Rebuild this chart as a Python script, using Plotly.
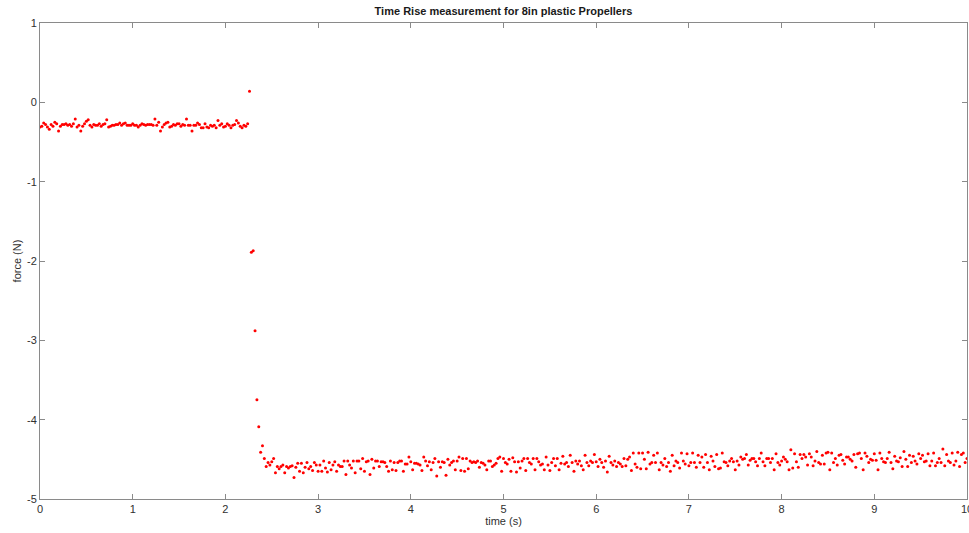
import plotly.graph_objects as go

# Sampling period of the recording (s)
SAMPLE_PERIOD = 0.02

# Force readings (N), one per sample
force_idle = [
    -0.31,-0.30,-0.26,-0.28,-0.31,-0.34,-0.28,-0.30,-0.25,-0.27,
    -0.36,-0.30,-0.28,-0.28,-0.27,-0.29,-0.28,-0.30,-0.27,-0.21,
    -0.31,-0.29,-0.36,-0.30,-0.27,-0.24,-0.22,-0.29,-0.31,-0.28,
    -0.29,-0.29,-0.27,-0.30,-0.28,-0.27,-0.22,-0.31,-0.30,-0.29,
    -0.29,-0.28,-0.28,-0.26,-0.29,-0.27,-0.26,-0.29,-0.29,-0.29,
    -0.27,-0.29,-0.29,-0.31,-0.29,-0.27,-0.28,-0.29,-0.28,-0.28,
    -0.28,-0.29,-0.21,-0.29,-0.25,-0.36,-0.31,-0.28,-0.26,-0.25,
    -0.31,-0.30,-0.28,-0.29,-0.27,-0.27,-0.30,-0.28,-0.29,-0.21,
    -0.29,-0.29,-0.36,-0.29,-0.29,-0.26,-0.28,-0.32,-0.32,-0.27,
    -0.31,-0.32,-0.29,-0.30,-0.29,-0.32,-0.23,-0.29,-0.27,-0.31,
    -0.30,-0.27,-0.29,-0.32,-0.29,-0.28,-0.23,-0.26,-0.30,-0.32,
    -0.29,-0.30,-0.27,
]

force_rise = [0.14, -1.89, -1.87, -2.88, -3.75, -4.09, -4.41, -4.33, -4.49]

force_steady_a = [
    -4.59,-4.54,-4.57,-4.53,-4.49,-4.67,-4.59,-4.62,-4.59,-4.57,
    -4.67,-4.59,-4.61,-4.59,-4.58,-4.73,-4.60,-4.55,-4.65,-4.55,
    -4.67,-4.60,-4.54,-4.62,-4.59,-4.64,-4.54,-4.57,-4.65,-4.57,
    -4.65,-4.52,-4.61,-4.66,-4.54,-4.63,-4.57,-4.53,-4.65,-4.57,
    -4.59,-4.59,-4.52,-4.69,-4.52,-4.57,-4.61,-4.52,-4.67,-4.52,
    -4.52,-4.62,-4.49,-4.65,-4.53,-4.52,-4.69,-4.50,-4.61,-4.52,
    -4.52,-4.59,-4.53,-4.53,-4.54,-4.59,-4.65,-4.52,-4.63,-4.54,
    -4.64,-4.54,-4.52,-4.52,-4.65,-4.56,-4.56,-4.47,-4.53,-4.63,
    -4.55,-4.55,-4.56,-4.57,-4.64,-4.47,-4.52,-4.58,-4.53,-4.63,
    -4.54,-4.49,-4.71,-4.53,-4.60,-4.53,-4.54,-4.70,-4.50,-4.57,
    -4.54,-4.52,-4.63,-4.52,-4.47,-4.64,-4.49,-4.65,-4.49,-4.62,
    -4.52,-4.54,-4.53,-4.54,-4.52,-4.60,
]

force_steady_b = [
    -4.54,-4.55,-4.57,-4.63,-4.52,-4.52,-4.59,-4.57,-4.55,-4.49,
    -4.47,-4.65,-4.49,-4.54,-4.56,-4.50,-4.65,-4.48,-4.53,-4.66,
    -4.53,-4.61,-4.52,-4.49,-4.64,-4.49,-4.54,-4.56,-4.49,-4.63,
    -4.49,-4.53,-4.57,-4.56,-4.63,-4.47,-4.57,-4.64,-4.54,-4.49,
    -4.58,-4.49,-4.63,-4.55,-4.46,-4.56,-4.54,-4.59,-4.45,-4.54,
    -4.65,-4.52,-4.56,-4.52,-4.58,-4.63,-4.45,-4.54,-4.58,-4.52,
    -4.54,-4.44,-4.53,-4.59,-4.50,-4.54,-4.60,-4.52,-4.66,-4.46,
    -4.54,-4.57,-4.52,-4.59,-4.54,-4.56,-4.59,-4.49,-4.58,-4.50,
    -4.47,-4.64,-4.42,-4.56,-4.60,-4.42,-4.62,-4.42,-4.50,-4.62,
    -4.41,-4.56,-4.54,-4.45,-4.54,-4.42,-4.63,-4.54,-4.57,-4.49,
    -4.59,-4.54,-4.65,-4.45,-4.58,-4.52,-4.54,-4.61,-4.42,-4.52,
    -4.56,-4.43,-4.58,-4.54,-4.42,-4.54,-4.60,-4.45,-4.54,-4.47,
    -4.60,-4.44,-4.54,-4.63,-4.46,-4.52,-4.59,-4.44,-4.62,
]

force_steady_c = [
    -4.61,-4.42,-4.53,-4.54,-4.58,-4.52,-4.49,-4.53,-4.63,-4.52,
    -4.57,-4.47,-4.50,-4.49,-4.44,-4.57,-4.51,-4.49,-4.49,-4.53,
    -4.58,-4.49,-4.42,-4.53,-4.58,-4.49,-4.49,-4.54,-4.49,-4.63,
    -4.43,-4.54,-4.57,-4.52,-4.47,-4.50,-4.53,-4.63,-4.38,-4.61,
    -4.43,-4.53,-4.60,-4.44,-4.49,-4.44,-4.47,-4.57,-4.43,-4.47,
    -4.58,-4.52,-4.40,-4.54,-4.56,-4.45,-4.56,-4.42,-4.41,-4.63,
    -4.42,-4.54,-4.49,-4.57,-4.45,-4.44,-4.51,-4.56,-4.47,-4.47,
    -4.50,-4.52,-4.44,-4.60,-4.43,-4.42,-4.49,-4.63,-4.42,-4.46,
    -4.54,-4.50,-4.51,-4.43,-4.51,-4.63,-4.42,-4.49,-4.53,-4.54,
    -4.49,-4.41,-4.54,-4.62,-4.46,-4.52,-4.53,-4.48,-4.59,-4.40,
    -4.50,-4.59,-4.45,-4.54,-4.46,-4.52,-4.56,-4.43,-4.49,-4.45,
    -4.53,-4.52,-4.43,-4.58,-4.52,-4.42,-4.58,-4.54,-4.49,-4.54,
    -4.37,-4.58,-4.44,-4.52,-4.54,-4.42,-4.57,-4.52,-4.41,-4.59,
    -4.44,-4.42,-4.54,-4.49,
]

force = force_idle + force_rise + force_steady_a + force_steady_b + force_steady_c
time = [round(i * SAMPLE_PERIOD, 2) for i in range(len(force))]

x_ticks = [0, 1, 2, 3, 4, 5, 6, 7, 8, 9, 10]
y_ticks = [-5, -4, -3, -2, -1, 0, 1]

title_text = "Time Rise measurement for 8in plastic Propellers"
x_label = "time (s)"
y_label = "force (N)"

FONT = "Liberation Sans, Arial, Helvetica, sans-serif"
AXIS_COLOR = "#8a8a8a"
TEXT_COLOR = "#303030"

fig = go.Figure()
fig.add_trace(go.Scatter(
    x=time, y=force, mode="markers",
    marker=dict(color="#ff0000", size=3, line=dict(width=0)),
    showlegend=False, hoverinfo="x+y",
))

axis_common = dict(
    showline=True, linecolor=AXIS_COLOR, linewidth=1, mirror="ticks",
    ticks="inside", ticklen=5, tickwidth=1, tickcolor=AXIS_COLOR,
    showgrid=False, zeroline=False, automargin=False,
    ticklabeloverflow="allow",
    tickfont=dict(family=FONT, size=11, color=TEXT_COLOR),
)

fig.update_layout(
    width=969, height=533,
    margin=dict(l=40, r=2, t=23, b=34, pad=0),
    paper_bgcolor="white", plot_bgcolor="white",
    font=dict(family=FONT, size=11, color=TEXT_COLOR),
    title=dict(
        text="<b>" + title_text + "</b>",
        x=0.5, xref="paper", xanchor="center",
        y=1, yref="container", yanchor="top", pad=dict(t=7),
        font=dict(family=FONT, size=11, color="#1a1a1a"),
    ),
    xaxis=dict(
        range=[0, 10], tickvals=x_ticks, ticktext=[str(v) for v in x_ticks],
        title=dict(text=x_label, standoff=3, font=dict(family=FONT, size=11, color=TEXT_COLOR)),
        **axis_common,
    ),
    yaxis=dict(
        range=[-5, 1], tickvals=y_ticks, ticktext=[str(v) for v in y_ticks],
        title=dict(text=y_label, standoff=3, font=dict(family=FONT, size=11, color=TEXT_COLOR)),
        **axis_common,
    ),
)

fig.write_html(
    "out.html",
    config={"displayModeBar": False},
    post_script="document.body.style.margin='0';document.body.style.overflow='hidden';",
)
